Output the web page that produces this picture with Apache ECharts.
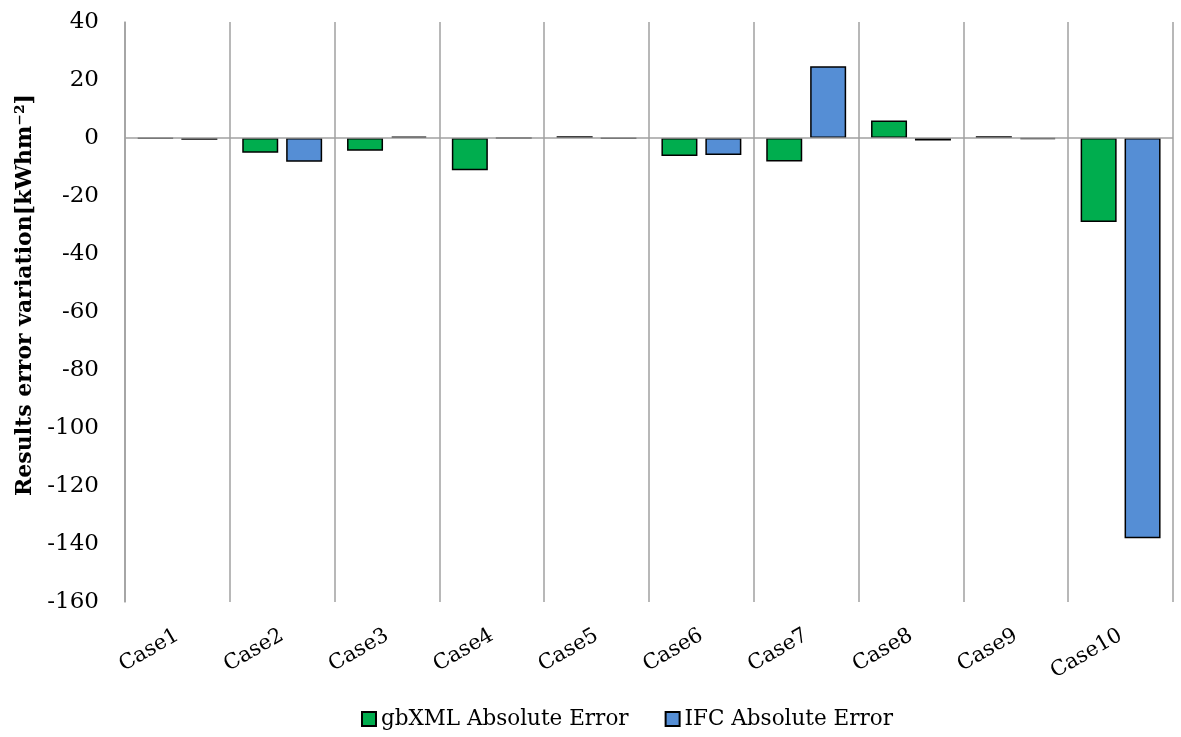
<!DOCTYPE html>
<html>
<head>
<meta charset="utf-8">
<script src="https://cdn.jsdelivr.net/npm/echarts@6/dist/echarts.min.js"></script>
<style>html,body{margin:0;padding:0;background:#fff}#c{width:1181px;height:737px}</style>
</head>
<body>
<div id="c"></div>
<script>
const categories = ['Case1','Case2','Case3','Case4','Case5','Case6','Case7','Case8','Case9','Case10'];
const gbxmlError = [-0.2, -5.1, -4.4, -11.1, 0.6, -6.2, -8.1, 6.0, 0.6, -29.0];
const ifcError = [-0.6, -8.2, 0.5, 0, -0.1, -5.9, 24.7, -0.9, -0.4, -138.0];
const yTicks = {min: -160, max: 40, interval: 20};
const seriesNames = ['gbXML Absolute Error', 'IFC Absolute Error'];
const yAxisName = 'Results error variation[kWhm⁻²]';

const FONT = 'DejaVu Serif';
const chart = echarts.init(document.getElementById('c'));
chart.setOption({
  animation: false,
  backgroundColor: '#fff',
  grid: {left: 125, right: 8, top: 22, bottom: 135, containLabel: false},
  legend: {
    bottom: 2, left: 356, itemWidth: 14, itemHeight: 14, itemGap: 36, icon: 'rect',
    textStyle: {fontFamily: FONT, fontSize: 21.5, color: '#000'},
    data: seriesNames
  },
  xAxis: {
    type: 'category', data: categories, position: 'bottom',
    axisLine: {show: false}, axisTick: {show: false},
    splitLine: {show: true, lineStyle: {color: '#a0a0a0', width: 1.5}},
    axisLabel: {rotate: 30, margin: 32, fontFamily: FONT, fontSize: 21, color: '#000', interval: 0}
  },
  yAxis: {
    type: 'value', min: yTicks.min, max: yTicks.max, interval: yTicks.interval,
    name: yAxisName, nameLocation: 'middle', nameGap: 86,
    nameTextStyle: {fontFamily: FONT, fontSize: 22, fontWeight: 'bold', color: '#000', padding: [0, 0, 0, 34]},
    axisLine: {show: true, lineStyle: {color: '#a0a0a0', width: 1.5}},
    axisTick: {show: false}, splitLine: {show: false},
    axisLabel: {margin: 26, fontFamily: FONT, fontSize: 23, color: '#000'}
  },
  series: [
    {
      name: seriesNames[0], type: 'bar', data: gbxmlError, barWidth: 36, barGap: '22%',
      itemStyle: {color: '#00ad4e', borderColor: '#000', borderWidth: 1.5},
      markLine: {
        silent: true, symbol: 'none', label: {show: false},
        lineStyle: {color: '#a0a0a0', width: 1.5, type: 'solid'},
        data: [{yAxis: 0}], z: 10
      }
    },
    {
      name: seriesNames[1], type: 'bar', data: ifcError, barWidth: 36,
      itemStyle: {color: '#558ed5', borderColor: '#000', borderWidth: 1.5}
    }
  ]
});
</script>
</body>
</html>
